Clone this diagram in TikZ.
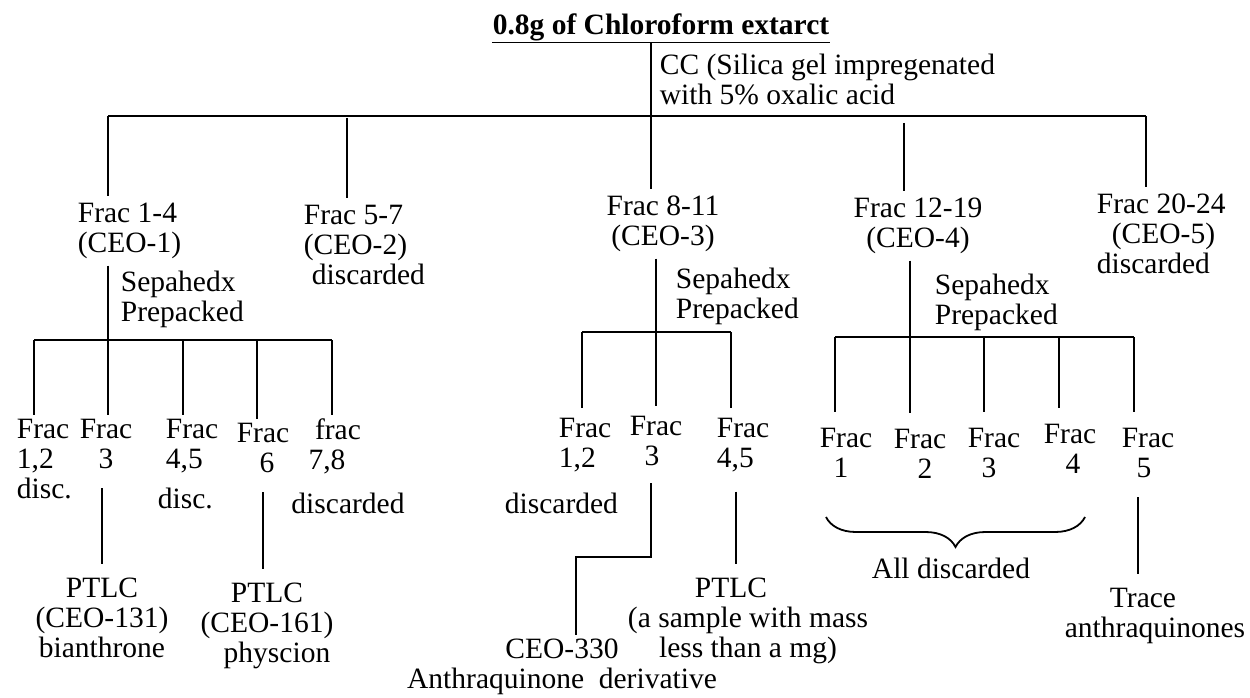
\documentclass[tikz,border=0pt]{standalone}
\usepackage{fontspec}
\setmainfont{Liberation Serif}
\usetikzlibrary{positioning,arrows,calc,decorations.pathreplacing}

\begin{document}
\begin{tikzpicture}[x=1pt,y=-1pt,line width=1.8pt,
	every node/.style={inner xsep=0pt,inner ysep=3pt,font=\fontsize{29.5}{30}\selectfont},
	frac/.style={inner ysep=6pt},
	drop/.style={shorten <=16pt,shorten >=10pt}]
\useasboundingbox (0,0) rectangle (1250,698);

\node[anchor=base,inner sep=0pt,font=\fontsize{29.5}{30}\selectfont\bfseries] (Extract) at (661,35) {0.8g of Chloroform extarct};
\draw[line width=1.5pt] (Extract.south west) -- (Extract.south east);
\node[anchor=north west,align=left] (CCLabel) at (659,50) {CC (Silica gel impregenated\\with 5\% oxalic acid};

\coordinate (J1) at (108,116);
\coordinate (J2) at (347,118);
\coordinate (J3) at (651,116);
\coordinate (J4) at (904,123);
\coordinate (J5) at (1146,116);

\node[frac,anchor=north west,align=left] (F14) at (77,196) {Frac 1-4\\(CEO-1)};
\node[frac,anchor=north west,align=left] (F57) at (303,198) {Frac 5-7\\(CEO-2)\\\hspace*{8pt}discarded};
\node[frac,anchor=north,align=center] (F811) at (663,189) {Frac 8-11\\(CEO-3)};
\node[frac,anchor=north,align=center] (F1219) at (918,191) {Frac 12-19\\(CEO-4)};
\node[frac,anchor=north west,align=left] (F2024) at (1096,187) {Frac 20-24\\\hspace*{15pt}(CEO-5)\\discarded};

\node[anchor=north west,align=left] (Sep1) at (120,267) {Sepahedx\\Prepacked};
\node[anchor=north west,align=left] (Sep3) at (675,264) {Sepahedx\\Prepacked};
\node[anchor=north west,align=left] (Sep4) at (934,270) {Sepahedx\\Prepacked};

% first column
\coordinate (D12) at (34,340);
\coordinate (D3) at (108,340);
\coordinate (D45) at (183,340);
\coordinate (D6) at (257,340);
\coordinate (D78) at (332,340);

\node[anchor=north west,align=left] (L12) at (16,415) {Frac\\1,2\\disc.};
\node[anchor=north,align=center] (L3) at (106,415) {Frac\\3};
\node[anchor=north west,align=left] (L45) at (165,415) {Frac\\4,5\\[10pt]\hspace*{-8pt}disc.};
\node[anchor=north,align=center] (L6) at (263,419) {Frac\\\hspace*{8pt}6};
\node[anchor=north,align=center] (L78) at (338,415) {frac\\\hspace*{-22pt}7,8\\[14pt]\hspace*{20pt}discarded};

\node[anchor=north,align=center] (P131) at (102,574) {PTLC\\(CEO-131)\\bianthrone};
\node[anchor=north,align=center] (P161) at (267,579) {PTLC\\(CEO-161)\\\hspace*{20pt}physcion};

% middle column
\coordinate (E12) at (582,332);
\coordinate (E3) at (656,332);
\coordinate (E45) at (731,332);
\coordinate (Bend) at (576,557);

\node[anchor=north west,align=left] (M12) at (558,414) {Frac\\1,2\\[16pt]\hspace*{-54pt}discarded};
\node[anchor=north,align=center] (M3) at (656,412) {Frac\\\hspace*{-8pt}3};
\node[anchor=north west,align=left] (M45) at (716,414) {Frac\\4,5};

\node[anchor=north,align=center] (CEO330) at (562,635) {CEO-330\\Anthraquinone\ \ derivative};
\node[anchor=north,align=center] (PTLCm) at (748,574) {PTLC\hspace*{34pt}\\(a sample with mass\\less than a mg)};

% right column
\coordinate (G1) at (835,337);
\coordinate (G2) at (910,337);
\coordinate (G3) at (984,337);
\coordinate (G4) at (1059,337);
\coordinate (G5) at (1134,337);
\coordinate (BraceL) at (826,517);
\coordinate (BraceR) at (1085,517);

\node[anchor=north,align=center] (R1) at (846,424) {Frac\\\hspace*{-10pt}1};
\node[anchor=north,align=center] (R2) at (920,425) {Frac\\\hspace*{10pt}2};
\node[anchor=north,align=center] (R3) at (994,424) {Frac\\\hspace*{-10pt}3};
\node[anchor=north,align=center] (R4) at (1070,420) {Frac\\\hspace*{6pt}4};
\node[anchor=north,align=center] (R5) at (1148,424) {Frac\\\hspace*{-8pt}5};

\node[anchor=north] (AllDisc) at (951,554) {All discarded};
\node[anchor=north,align=center] (Trace) at (1155,584) {Trace\hspace*{24pt}\\anthraquinones};

% main split
\draw (J1) -- (J5);
\draw (Extract.south -| J3) -- (J3 |- F811.north);
\draw (J1) -- (J1 |- F14.north);
\draw (J2) -- (J2 |- F57.north);
\draw (J4) -- (J4 |- F1219.north);
\draw (J5) -- (J5 |- F2024.north);

% Sepahedx splits
\draw (F14.south -| D3) -- (D3);
\draw (D12) -- (D78);
\draw (D12) -- (D12 |- L12.north);
\draw (D3) -- (D3 |- L3.north);
\draw (D45) -- (D45 |- L45.north);
\draw (D6) -- (D6 |- L6.north);
\draw (D78) -- (D78 |- L78.north);

\draw (F811.south -| E3) -- (E3);
\draw (E12) -- (E45);
\draw[shorten >=6pt] (E12) -- (E12 |- M12.north);
\draw[shorten >=6pt] (E3) -- (E3 |- M3.north);
\draw[shorten >=6pt] (E45) -- (E45 |- M45.north);

\draw (F1219.south -| G2) -- (G2);
\draw (G1) -- (G5);
\draw[shorten >=12pt] (G1) -- (G1 |- R1.north);
\draw[shorten >=12pt] (G2) -- (G2 |- R2.north);
\draw[shorten >=12pt] (G3) -- (G3 |- R3.north);
\draw[shorten >=12pt] (G4) -- (G4 |- R4.north);
\draw[shorten >=12pt] (G5) -- (G5 |- R5.north);

% products
\draw[drop] (L3.south -| P131) -- (P131.north);
\draw[drop] (L6.south) -- (L6.south |- P161.north);
\draw[shorten <=14pt] ([xshift=-5pt]M3.south) |- (Bend) -- (Bend |- CEO330.north);
\draw[drop] ([xshift=-7pt]M45.south) -- ([xshift=-7pt]M45.south |- PTLCm.north);
\draw[drop] ([xshift=-10pt]R5.south) -- ([xshift=-10pt]R5.south |- Trace.north);
\draw[decorate,decoration={brace,mirror,amplitude=30pt}] (BraceL) -- (BraceR);
\end{tikzpicture}
\end{document}
